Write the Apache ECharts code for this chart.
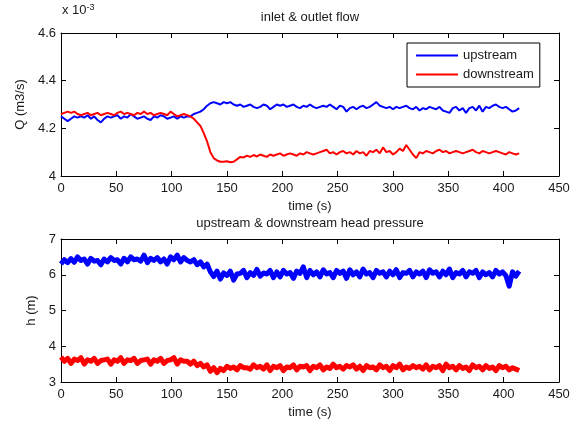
<!DOCTYPE html>
<html>
<head>
<meta charset="utf-8">
<script src="https://cdn.jsdelivr.net/npm/echarts@6/dist/echarts.min.js"></script>
<style>
  html, body { margin: 0; padding: 0; background: #fff; }
  #chart { width: 579px; height: 421px; }
</style>
</head>
<body>
<div id="chart"></div>
<script>
// sample step of the logged signals (s)
var dt = 3;

// inlet / outlet flow, in 1e-3 m3/s
var qUpstream = [
    4.25, 4.24, 4.23, 4.24, 4.25, 4.245, 4.25, 4.245, 4.255, 4.24,
    4.25, 4.235, 4.225, 4.24, 4.25, 4.245, 4.25, 4.255, 4.24, 4.25,
    4.245, 4.26, 4.25, 4.24, 4.245, 4.25, 4.24, 4.235, 4.25, 4.245,
    4.255, 4.25, 4.24, 4.245, 4.25, 4.24, 4.25, 4.245, 4.25,
    4.25, 4.26, 4.265, 4.27, 4.28, 4.295, 4.305, 4.31, 4.305, 4.30,
    4.31, 4.305, 4.31, 4.30, 4.295, 4.30, 4.29, 4.295, 4.30, 4.29,
    4.285, 4.29, 4.30, 4.295, 4.28, 4.29, 4.30, 4.295, 4.30, 4.29,
    4.295, 4.30, 4.29, 4.285, 4.295, 4.29, 4.30, 4.29, 4.285, 4.29,
    4.295, 4.29, 4.30, 4.29, 4.28, 4.295, 4.29, 4.27, 4.285, 4.29,
    4.28, 4.29, 4.295, 4.285, 4.29, 4.30, 4.31, 4.295, 4.29, 4.285,
    4.29, 4.28, 4.29, 4.285, 4.29, 4.295, 4.285, 4.28, 4.29, 4.275,
    4.285, 4.28, 4.29, 4.285, 4.28, 4.29, 4.275, 4.27, 4.265, 4.285,
    4.29, 4.275, 4.285, 4.265, 4.285, 4.29, 4.275, 4.295, 4.27, 4.29,
    4.285, 4.295, 4.30, 4.29, 4.285, 4.29, 4.28, 4.27, 4.275, 4.285
];
var qDownstream = [
    4.26, 4.265, 4.27, 4.265, 4.27, 4.26, 4.255, 4.26, 4.265, 4.255,
    4.26, 4.265, 4.255, 4.26, 4.265, 4.26, 4.255, 4.265, 4.27, 4.26,
    4.265, 4.26, 4.255, 4.265, 4.26, 4.27, 4.26, 4.265, 4.255, 4.26,
    4.265, 4.26, 4.255, 4.27, 4.26, 4.25, 4.255, 4.26, 4.255,
    4.25, 4.24, 4.225, 4.21, 4.18, 4.145, 4.10, 4.075, 4.065, 4.06,
    4.06, 4.062, 4.058, 4.06, 4.07, 4.08, 4.078, 4.085, 4.08, 4.088,
    4.082, 4.09, 4.085, 4.08, 4.09, 4.085, 4.09, 4.095, 4.085, 4.09,
    4.095, 4.09, 4.085, 4.095, 4.09, 4.10, 4.095, 4.09, 4.095, 4.10,
    4.105, 4.11, 4.095, 4.10, 4.09, 4.10, 4.105, 4.095, 4.10, 4.09,
    4.105, 4.095, 4.10, 4.085, 4.105, 4.10, 4.11, 4.095, 4.12, 4.10,
    4.105, 4.09, 4.10, 4.115, 4.105, 4.13, 4.11, 4.09, 4.075, 4.10,
    4.095, 4.105, 4.10, 4.095, 4.105, 4.11, 4.10, 4.105, 4.095, 4.10,
    4.105, 4.10, 4.095, 4.10, 4.105, 4.11, 4.10, 4.095, 4.105, 4.10,
    4.095, 4.10, 4.105, 4.10, 4.095, 4.09, 4.10, 4.095, 4.09, 4.095
];

// head pressure (m)
var hUpstream = [
    6.30, 6.42, 6.34, 6.45, 6.35, 6.50, 6.40, 6.44, 6.30, 6.46,
    6.38, 6.40, 6.28, 6.44, 6.36, 6.48, 6.40, 6.42, 6.30, 6.46,
    6.36, 6.50, 6.42, 6.44, 6.38, 6.55, 6.34, 6.46, 6.40, 6.48,
    6.36, 6.44, 6.30, 6.50, 6.42, 6.55, 6.36, 6.48, 6.40,
    6.36, 6.42, 6.28, 6.36, 6.22, 6.30, 6.08, 5.95, 6.10, 5.88,
    6.05, 5.98, 6.10, 5.85, 6.02, 6.04, 6.12, 5.92, 6.06, 5.98,
    6.15, 5.96, 6.05, 6.02, 6.12, 5.92, 6.08, 5.94, 6.12, 6.02,
    6.06, 5.90, 6.10, 6.04, 6.22, 5.92, 6.12, 6.00, 6.08, 5.94,
    6.14, 6.02, 6.06, 5.92, 6.12, 6.04, 6.10, 5.90, 6.14, 6.00,
    6.08, 5.94, 6.16, 6.02, 6.06, 5.92, 6.12, 6.04, 6.08, 5.94,
    6.10, 6.00, 6.14, 5.92, 6.06, 6.04, 6.12, 5.94, 6.08, 6.02,
    6.10, 5.92, 6.14, 6.04, 6.08, 5.94, 6.10, 6.00, 6.16, 5.92,
    6.06, 6.02, 6.12, 5.94, 6.08, 6.04, 6.12, 5.92, 6.08, 6.00,
    6.06, 5.94, 6.12, 6.02, 6.08, 5.98, 5.68, 6.08, 5.96, 6.10
];
var hDownstream = [
    3.70, 3.58, 3.66, 3.52, 3.64, 3.60, 3.68, 3.50, 3.62, 3.58,
    3.66, 3.52, 3.60, 3.62, 3.64, 3.50, 3.62, 3.58, 3.68, 3.52,
    3.62, 3.60, 3.66, 3.52, 3.60, 3.62, 3.64, 3.50, 3.62, 3.58,
    3.66, 3.52, 3.60, 3.62, 3.68, 3.50, 3.62, 3.58, 3.58,
    3.50, 3.58, 3.46, 3.52, 3.42, 3.48, 3.30, 3.40, 3.26, 3.38,
    3.32, 3.44, 3.38, 3.42, 3.34, 3.46, 3.40, 3.40, 3.36, 3.48,
    3.40, 3.44, 3.36, 3.48, 3.32, 3.44, 3.40, 3.46, 3.32, 3.42,
    3.40, 3.48, 3.34, 3.44, 3.42, 3.46, 3.32, 3.44, 3.40, 3.48,
    3.34, 3.42, 3.38, 3.50, 3.40, 3.44, 3.36, 3.46, 3.42, 3.48,
    3.36, 3.44, 3.32, 3.46, 3.40, 3.42, 3.34, 3.48, 3.40, 3.44,
    3.32, 3.46, 3.40, 3.50, 3.34, 3.42, 3.38, 3.46, 3.40, 3.44,
    3.36, 3.48, 3.34, 3.44, 3.40, 3.46, 3.32, 3.50, 3.40, 3.44,
    3.34, 3.46, 3.38, 3.42, 3.32, 3.48, 3.40, 3.44, 3.34, 3.46,
    3.38, 3.42, 3.32, 3.46, 3.40, 3.44, 3.34, 3.40, 3.36, 3.32
];

var xTicks = [0, 450, 50];      // min, max, step
var qTicks = [4, 4.6, 0.2];
var hTicks = [3, 7, 1];

function pairs(arr) {
    return arr.map(function (v, i) { return [i * dt, v]; });
}

var font = 'Liberation Sans, Arial, Helvetica, sans-serif';
var ink = '#1a1a1a';

function xAx(grid, top, name) {
    return {
        type: 'value', gridIndex: grid, position: top ? 'top' : 'bottom',
        min: xTicks[0], max: xTicks[1], interval: xTicks[2],
        name: top ? '' : name, nameLocation: 'middle', nameGap: 24,
        nameTextStyle: { color: ink, fontSize: 13, fontFamily: font },
        axisLine: { show: true, onZero: false, lineStyle: { color: '#000', width: 1 } },
        axisTick: { show: true, inside: true, length: 5, lineStyle: { color: '#000' } },
        axisLabel: { show: !top, color: ink, fontSize: 13, fontFamily: font, margin: 6 },
        splitLine: { show: false }
    };
}

function yAx(grid, right, t, name, gap) {
    return {
        type: 'value', gridIndex: grid, position: right ? 'right' : 'left',
        min: t[0], max: t[1], interval: t[2],
        name: right ? '' : name, nameLocation: 'middle', nameGap: gap,
        nameTextStyle: { color: ink, fontSize: 13, fontFamily: font },
        axisLine: { show: true, onZero: false, lineStyle: { color: '#000', width: 1 } },
        axisTick: { show: true, inside: true, length: 5, lineStyle: { color: '#000' } },
        axisLabel: { show: !right, color: ink, fontSize: 13, fontFamily: font, margin: 5 },
        splitLine: { show: false }
    };
}

var option = {
    backgroundColor: '#fff',
    animation: false,
    grid: [
        { left: 61, right: 20, top: 33, height: 143 },
        { left: 61, right: 20, top: 239, height: 143 }
    ],
    xAxis: [
        xAx(0, false, 'time (s)'),
        xAx(1, false, 'time (s)'),
        xAx(0, true),
        xAx(1, true)
    ],
    yAxis: [
        yAx(0, false, qTicks, 'Q (m3/s)', 33),
        yAx(1, false, hTicks, 'h (m)', 22),
        yAx(0, true, qTicks),
        yAx(1, true, hTicks)
    ],
    legend: {
        data: ['upstream', 'downstream'],
        orient: 'vertical',
        left: 407, top: 43,
        padding: [6, 6, 6, 8],
        itemWidth: 42, itemHeight: 14, itemGap: 6,
        borderColor: '#000', borderWidth: 1, borderRadius: 0,
        backgroundColor: '#fff',
        textStyle: { color: ink, fontSize: 13, fontFamily: font },
        itemStyle: { opacity: 0 }
    },
    graphic: [
        {
            type: 'text', left: 62, top: 3,
            style: {
                text: 'x 10{s|-3}',
                rich: { s: { fontSize: 9, verticalAlign: 'top', fontFamily: font, fill: ink, padding: [0, 0, 6, 0] } },
                font: '13px ' + font, fill: ink
            }
        },
        {
            type: 'text', x: 310, y: 17,
            style: { text: 'inlet & outlet flow', font: '13px ' + font, fill: ink, textAlign: 'center', textVerticalAlign: 'middle' }
        },
        {
            type: 'text', x: 310, y: 223,
            style: { text: 'upstream & downstream head pressure', font: '13px ' + font, fill: ink, textAlign: 'center', textVerticalAlign: 'middle' }
        }
    ],
    series: [
        {
            name: 'upstream', type: 'line', xAxisIndex: 0, yAxisIndex: 0,
            data: pairs(qUpstream), symbol: 'none', silent: true,
            itemStyle: { color: '#0000ff' },
            lineStyle: { color: '#0000ff', width: 2 }
        },
        {
            name: 'downstream', type: 'line', xAxisIndex: 0, yAxisIndex: 0,
            data: pairs(qDownstream), symbol: 'none', silent: true,
            itemStyle: { color: '#ff0000' },
            lineStyle: { color: '#ff0000', width: 2 }
        },
        {
            name: 'h upstream', type: 'line', xAxisIndex: 1, yAxisIndex: 1,
            data: pairs(hUpstream), symbol: 'none', silent: true,
            lineStyle: { color: '#0000ff', width: 5, join: 'round' }
        },
        {
            name: 'h downstream', type: 'line', xAxisIndex: 1, yAxisIndex: 1,
            data: pairs(hDownstream), symbol: 'none', silent: true,
            lineStyle: { color: '#ff0000', width: 5, join: 'round' }
        }
    ]
};

var chart = echarts.init(document.getElementById('chart'));
chart.setOption(option);
window.onresize = chart.resize;
</script>
</body>
</html>
